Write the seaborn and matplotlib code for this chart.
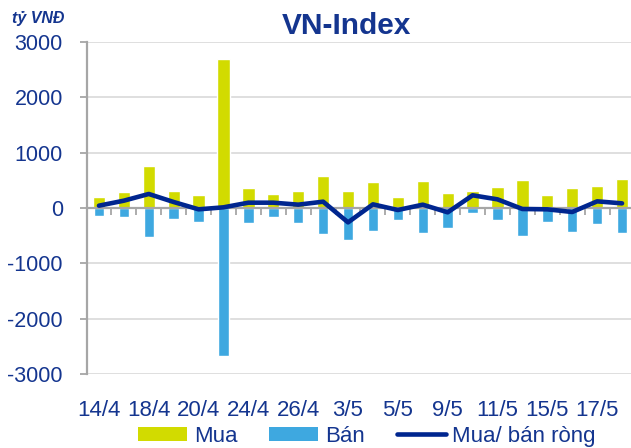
import numpy as np
import pandas as pd
import matplotlib
matplotlib.use("Agg")
import matplotlib.pyplot as plt
from matplotlib.patches import Patch
from matplotlib.lines import Line2D
import seaborn as sns

dates = ["14/4", "17/4", "18/4", "19/4", "20/4", "21/4", "24/4", "25/4", "26/4", "27/4",
         "3/5", "4/5", "5/5", "8/5", "9/5", "10/5", "11/5", "12/5", "15/5", "16/5", "17/5", "18/5"]
mua = [192, 283, 764, 301, 228, 2682, 355, 253, 313, 577,
       313, 475, 192, 481, 277, 313, 373, 499, 228, 367, 391, 529]
ban = [-138, -162, -529, -198, -253, -2670, -265, -162, -265, -463,
       -577, -421, -216, -445, -355, -90, -222, -505, -247, -427, -289, -445]
rong = [42, 132, 253, 108, -24, 12, 96, 96, 60, 114,
        -259, 66, -36, 60, -78, 229, 156, -18, -24, -72, 120, 84]
yticks = [-3000, -2000, -1000, 0, 1000, 2000, 3000]

YELLOW = "#D2DB00"
BLUE = "#3EA8E0"
NAVY = "#00268F"
TXT = "#14358F"
GRID = "#D9D9D9"
AXC = "#A6A6A6"

sns.set_theme(style="white")
plt.rcParams["font.family"] = ["Liberation Sans", "DejaVu Sans"]

df = pd.DataFrame({"date": dates, "mua": mua, "ban": ban, "rong": rong})
n = len(dates)

fig = plt.figure(figsize=(6.31, 4.48), dpi=100)
ax = fig.add_axes([86.5 / 631, (448 - 374.3) / 448, 548 / 631, (374.3 - 41.7) / 448])

sns.barplot(data=df, x="date", y="mua", color=YELLOW, width=0.49, saturation=1,
            order=dates, ax=ax, zorder=1)
sns.barplot(data=df, x="date", y="ban", color=BLUE, width=0.42, saturation=1,
            order=dates, ax=ax, zorder=1)
sns.lineplot(x=np.arange(n), y=df["rong"], color=NAVY, linewidth=3.3, ax=ax,
             zorder=4, solid_capstyle="round", solid_joinstyle="round")

ax.set_xlim(-0.5, n - 0.5)
ax.set_ylim(-3000, 3000)
ax.set_yticks(yticks)
ax.set_yticklabels([str(v) for v in yticks])
ax.set_axisbelow(True)
ax.yaxis.grid(True, color=GRID, linewidth=1.2)
ax.xaxis.grid(False)

for s in ["top", "right"]:
    ax.spines[s].set_visible(False)
ax.spines["left"].set_color(AXC)
ax.spines["left"].set_linewidth(1.6)
ax.spines["bottom"].set_position(("data", 0))
ax.spines["bottom"].set_color(AXC)
ax.spines["bottom"].set_linewidth(1.6)
ax.spines["bottom"].set_zorder(3)

ax.set_xticks(np.arange(0, n, 2))
ax.set_xticklabels(dates[::2])
ax.set_xticks(np.arange(n - 1) + 0.5, minor=True)
ax.tick_params(axis="x", which="major", length=0, pad=138, labelsize=16, labelcolor=TXT)
ax.tick_params(axis="x", which="minor", length=5, width=1.3, color=AXC, direction="out", bottom=True)
ax.tick_params(axis="y", which="major", length=5, width=1.3, color=AXC, direction="out",
               left=True, pad=12, labelsize=15.5, labelcolor=TXT)
ax.set_xlabel("")
ax.set_ylabel("")

fig.text(346 / 631, 1 - 26 / 448, "VN-Index", ha="center", va="center",
         fontsize=21.5, fontweight="bold", color=TXT)
fig.text(12 / 631, 1 - 18 / 448, "tỷ VNĐ", ha="left", va="center",
         fontsize=11.5, fontweight="bold", fontstyle="italic", color=TXT)

handles = [Patch(facecolor=YELLOW, edgecolor="none"),
           Patch(facecolor=BLUE, edgecolor="none"),
           Line2D([0], [0], color=NAVY, linewidth=3.3)]
fig.legend(handles, ["Mua", "Bán", "Mua/ bán ròng"], loc="center",
           bbox_to_anchor=(367 / 631, 1 - 436 / 448), ncol=3, frameon=False,
           fontsize=16, labelcolor=TXT, handlelength=2.2, handleheight=0.6,
           handletextpad=0.3, columnspacing=1.45, borderaxespad=0, borderpad=0)

fig.savefig("out.png", dpi=100)
